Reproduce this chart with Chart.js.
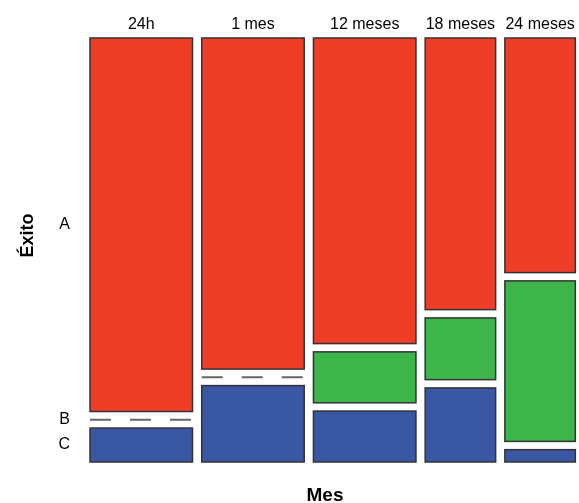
<!DOCTYPE html>
<html lang="es">
<head>
<meta charset="utf-8">
<title>Éxito por mes</title>
<script src="https://cdn.jsdelivr.net/npm/chart.js@4.4.1/dist/chart.umd.min.js"></script>
<style>
  html, body { margin: 0; padding: 0; background: #fff; }
  #wrap { width: 579px; height: 503px; }
</style>
</head>
<body>
<div id="wrap"><canvas id="mosaico"></canvas></div>
<script>
// counts per column (mes) and level (Éxito)
const meses = ['24h', '1 mes', '12 meses', '18 meses', '24 meses'];
const niveles = ['A', 'B', 'C'];
const cuentaA = [44, 39, 36, 22, 19];
const cuentaB = [0, 0, 6, 5, 13];
const cuentaC = [4, 9, 6, 6, 1];
const colores = ['#ef3e28', '#3db54a', '#3a57a5'];

const huecoX = 0.019;
const huecoY = 0.0195;

// tiles in data units: x 0..1 left to right, y 0..1 top to bottom
const totales = meses.map((m, i) => cuentaA[i] + cuentaB[i] + cuentaC[i]);
const total = totales.reduce((a, b) => a + b, 0);
const anchoUtil = 1 - huecoX * (meses.length - 1);
const altoUtil = 1 - huecoY * (niveles.length - 1);

const celdas = [];
let x0 = 0;
meses.forEach((m, i) => {
    const w = anchoUtil * totales[i] / total;
    let y0 = 0;
    [cuentaA[i], cuentaB[i], cuentaC[i]].forEach((n, k) => {
        const h = altoUtil * n / totales[i];
        celdas.push({ col: i, nivel: k, n, x0, x1: x0 + w, y0, y1: y0 + h });
        y0 += h + huecoY;
    });
    x0 += w + huecoX;
});

const centrosX = meses.map((m, i) => {
    const c = celdas.find(d => d.col === i);
    return (c.x0 + c.x1) / 2;
});
const centrosY = celdas.filter(d => d.col === 0).map(d => (d.y0 + d.y1) / 2);

const fuente = "'Liberation Sans', Arial, sans-serif";

// draws the tiles through the x / y scales
const mosaicoPlugin = {
    id: 'mosaico',
    afterDatasetsDraw(chart) {
        const { ctx, scales: { x, y } } = chart;
        ctx.save();
        celdas.forEach(c => {
            const px0 = x.getPixelForValue(c.x0);
            const px1 = x.getPixelForValue(c.x1);
            const py0 = y.getPixelForValue(c.y0);
            const py1 = y.getPixelForValue(c.y1);
            if (c.n === 0) {
                // empty cell -> dashed line
                ctx.setLineDash([21, 19]);
                ctx.strokeStyle = '#666';
                ctx.lineWidth = 2;
                ctx.beginPath();
                ctx.moveTo(px0, py0);
                ctx.lineTo(px1, py0);
                ctx.stroke();
                ctx.setLineDash([]);
                return;
            }
            ctx.fillStyle = colores[c.nivel];
            ctx.fillRect(px0, py0, px1 - px0, py1 - py0);
            ctx.strokeStyle = '#333';
            ctx.lineWidth = 1.5;
            ctx.strokeRect(px0, py0, px1 - px0, py1 - py0);
        });

        // variable names
        ctx.fillStyle = '#000';
        ctx.font = 'bold 19px ' + fuente;
        ctx.textAlign = 'center';
        ctx.textBaseline = 'alphabetic';
        ctx.fillText('Mes', chart.width / 2 + 35.5, 501);

        ctx.font = 'bold 18px ' + fuente;
        ctx.translate(33, 235.5);
        ctx.rotate(-Math.PI / 2);
        ctx.fillText('Éxito', 0, 0);
        ctx.restore();
    }
};

new Chart(document.getElementById('mosaico'), {
    type: 'scatter',
    data: { datasets: [{ data: [] }] },
    options: {
        responsive: true,
        maintainAspectRatio: false,
        animation: false,
        layout: { padding: { left: 0, right: 3, top: 0, bottom: 41 } },
        plugins: { legend: { display: false }, tooltip: { enabled: false } },
        scales: {
            x: {
                type: 'linear',
                position: 'top',
                min: 0,
                max: 1,
                grid: { display: false, drawTicks: false },
                border: { display: false },
                afterBuildTicks: s => { s.ticks = centrosX.map(v => ({ value: v })); },
                afterFit: s => { s.height = 38; },
                ticks: {
                    autoSkip: false,
                    maxRotation: 0,
                    padding: 4,
                    color: '#000',
                    font: { family: fuente, size: 16 },
                    callback: (v, i) => meses[i]
                }
            },
            y: {
                type: 'linear',
                position: 'left',
                min: 0,
                max: 1,
                reverse: true,
                grid: { display: false, drawTicks: false },
                border: { display: false },
                afterBuildTicks: s => { s.ticks = centrosY.map(v => ({ value: v })); },
                afterFit: s => { s.width = 90; },
                ticks: {
                    autoSkip: false,
                    padding: 20,
                    color: '#000',
                    font: { family: fuente, size: 16 },
                    callback: (v, i) => niveles[i]
                }
            }
        }
    },
    plugins: [mosaicoPlugin]
});
</script>
</body>
</html>
